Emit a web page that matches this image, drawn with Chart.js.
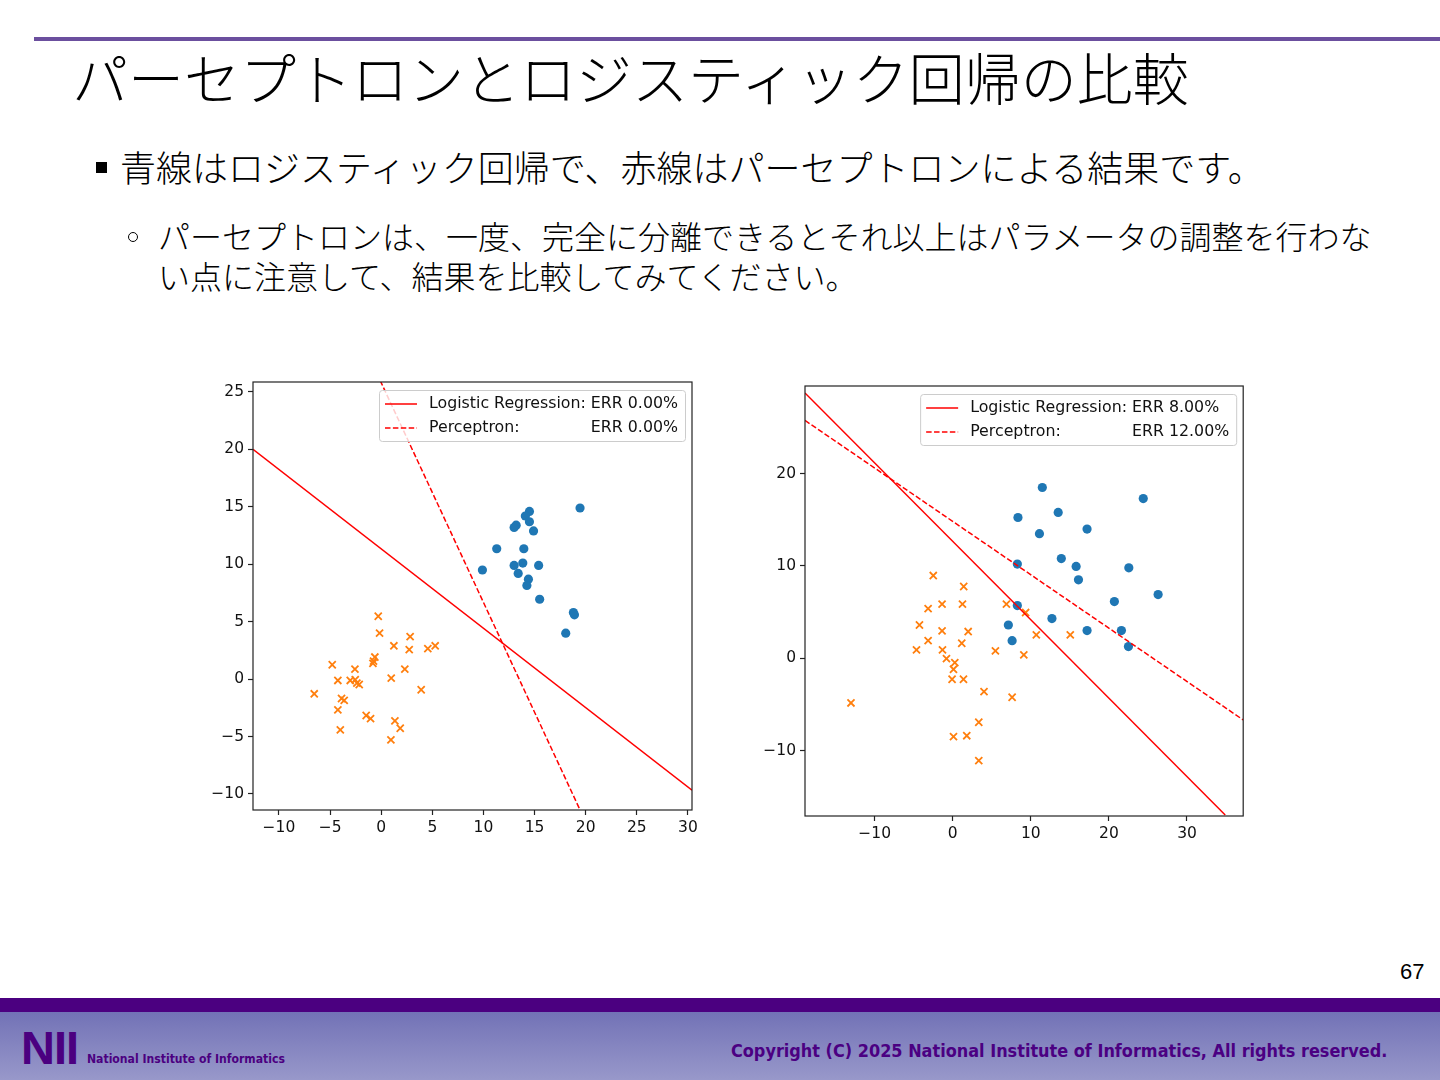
<!DOCTYPE html>
<html lang="ja">
<head>
<meta charset="UTF-8">
<meta name="viewport" content="width=device-width,initial-scale=1">
<title>パーセプトロンとロジスティック回帰の比較</title>
<script src="https://cdn.jsdelivr.net/npm/chart.js"></script>
<style>
  html, body { margin: 0; padding: 0; background: #fff; }
  body { position: relative; width: 1440px; height: 1080px; overflow: hidden;
         font-family: "Noto Sans CJK JP", "Noto Sans", sans-serif; color: #000; }
  .topline { position: absolute; left: 34px; top: 37px; width: 1406px; height: 4px; background: #6b4f9e; }
  h1 { position: absolute; left: 72px; top: 38px; margin: 0; font-size: 56px; line-height: 76px;
       font-weight: 300; white-space: nowrap; }
  .sq { position: absolute; left: 96px; top: 162px; width: 11px; height: 11px; background: #000; }
  .b1 { position: absolute; left: 120px; top: 142px; font-size: 36px; line-height: 48px; font-weight: 300; white-space: nowrap; }
  .ring { position: absolute; left: 128px; top: 232px; width: 8px; height: 8px;
          border: 1.5px solid #000; border-radius: 50%; }
  .b2 { position: absolute; left: 158px; top: 215px; font-size: 32px; line-height: 40px; font-weight: 300; white-space: nowrap; }
  canvas { position: absolute; }
  #plotL { left: 196px; top: 372px; }
  #plotR { left: 752px; top: 376px; }
  .pnum { position: absolute; left: 1400px; top: 959px; font-family: "Liberation Sans", Arial, sans-serif;
          font-size: 22px; line-height: 26px; }
  .band { position: absolute; left: 0; top: 998px; width: 1440px; height: 14px; background: #4b0080; }
  .foot { position: absolute; left: 0; top: 1012px; width: 1440px; height: 68px;
          background: linear-gradient(#7272b6, #9898ca); }
  .nii { position: absolute; left: 21px; top: 1024px; font-family: "Liberation Sans", Arial, sans-serif;
         font-weight: 700; font-size: 47px; line-height: 47px; color: #4b0080; letter-spacing: -1px; }
  .niiname { position: absolute; left: 87px; top: 1051px; font-family: "DejaVu Sans Condensed", "DejaVu Sans", sans-serif;
             font-weight: 700; font-size: 14px; line-height: 16px; color: #4b0080; white-space: nowrap; }
  .copy { position: absolute; left: 731px; top: 1039px; font-family: "DejaVu Sans Condensed", "DejaVu Sans", sans-serif;
          font-weight: 700; font-size: 18px; line-height: 24px; color: #4b0082; white-space: nowrap; }
</style>
</head>
<body>

<div class="topline"></div>
<h1>パーセプトロンとロジスティック回帰の比較</h1>

<div class="sq"></div>
<div class="b1">青線はロジスティック回帰で、赤線はパーセプトロンによる結果です。</div>

<div class="ring"></div>
<div class="b2">パーセプトロンは、一度、完全に分離できるとそれ以上はパラメータの調整を行わな<br>い点に注意して、結果を比較してみてください。</div>

<canvas id="plotL" width="504" height="470"></canvas>
<canvas id="plotR" width="498" height="472"></canvas>

<div class="pnum">67</div>
<div class="band"></div>
<div class="foot"></div>
<div class="nii">NII</div>
<div class="niiname" id="niiname">National Institute of Informatics</div>
<div class="copy" id="copy">Copyright (C) 2025 National Institute of Informatics, All rights reserved.</div>

<script>
  /* 左: 線形分離できるデータ */
  const xTicksL = [-10, -5, 0, 5, 10, 15, 20, 25, 30];
  const yTicksL = [-10, -5, 0, 5, 10, 15, 20, 25];
  const xLimL = [-12.54, 30.4];
  const yLimL = [-11.4, 25.87];
  const blueXL = [19.45, 14.5, 14.1, 14.5, 13.2, 13.0, 14.9, 11.3, 13.95, 9.9, 13.0, 13.85, 15.4, 13.4, 14.4, 14.25, 15.5, 18.8, 18.9, 18.05];
  const blueYL = [14.9, 14.6, 14.2, 13.7, 13.4, 13.2, 12.9, 11.35, 11.35, 9.5, 9.9, 10.1, 9.9, 9.2, 8.7, 8.15, 6.95, 5.8, 5.6, 4.0];
  const orangeXL = [-0.29, -0.16, 2.83, 1.24, 5.28, 4.56, 2.74, -0.62, -0.75, -0.81, -4.79, -2.57, 2.31, 0.98, -4.24,
                    -3.03, -2.54, -2.38, -2.15, 3.91, -6.55, -3.88, -3.62, -4.24, -1.47, -1.04, 1.34, 1.86, -4.0, 0.95];
  const orangeYL = [5.47, 4.0, 3.7, 2.9, 2.9, 2.65, 2.56, 1.92, 1.57, 1.37, 1.25, 0.87, 0.87, 0.09, -0.12,
                    -0.12, -0.06, -0.35, -0.47, -0.93, -1.28, -1.69, -1.86, -2.68, -3.17, -3.44, -3.64, -4.28, -4.42, -5.3];
  const lrXL = [-12.54, 30.4];
  const lrYL = [20.0, -9.67];
  const pcXL = [-0.1, 19.4];
  const pcYL = [26.0, -11.3];
  const errL = ['ERR 0.00%', 'ERR 0.00%'];

  /* 右: 重なりのあるデータ */
  const xTicksR = [-10, 0, 10, 20, 30];
  const yTicksR = [-10, 0, 10, 20];
  const xLimR = [-18.93, 37.2];
  const yLimR = [-17.1, 29.5];
  const blueXR = [11.47, 24.4, 8.35, 13.5, 11.1, 17.2, 13.9, 15.8, 22.55, 8.27, 16.1, 26.3, 20.7, 8.27, 7.12, 12.7, 17.2, 21.6, 7.6, 22.5];
  const blueYR = [18.5, 17.3, 15.25, 15.8, 13.5, 14.0, 10.8, 9.95, 9.8, 10.2, 8.5, 6.9, 6.14, 5.7, 3.6, 4.3, 3.0, 3.0, 1.9, 1.26];
  const orangeXR = [-2.5, 1.4, -1.37, 1.24, 6.87, -3.16, 9.33, -4.27, -1.37, 1.97, -3.16, 1.15, 10.7, 15.05, -4.65,
                    -1.32, 5.46, 9.1, -0.81, 0.26, 0.09, -0.09, 1.37, 4.0, 7.6, -13.04, 3.33, 0.09, 1.79, 3.33];
  const orangeYR = [8.96, 7.77, 5.86, 5.86, 5.86, 5.38, 4.95, 3.6, 2.96, 2.89, 1.9, 1.62, 2.53, 2.53, 0.9,
                    0.9, 0.79, 0.36, -0.04, -0.47, -1.2, -2.28, -2.28, -3.62, -4.23, -4.85, -6.94, -8.5, -8.4, -11.1];
  const lrXR = [-18.93, 34.9];
  const lrYR = [28.74, -17.0];
  const pcXR = [-18.93, 37.2];
  const pcYR = [25.77, -6.69];
  const errR = ['ERR 8.00%', 'ERR 12.00%'];

  const legendNames = ['Logistic Regression:', 'Perceptron:'];

  const TICK_FONT = { family: 'DejaVu Sans', size: 15.5 };
  const fmt = v => (v < 0 ? '\u2212' + Math.abs(v) : String(v));
  const pts = (xs, ys) => xs.map((x, i) => ({ x, y: ys[i] }));

  /* 枠 + matplotlib風の凡例 */
  const frameLegend = {
    id: 'frameLegend',
    afterDatasetsDraw(chart) {
      const { ctx, chartArea: a } = chart;
      ctx.save();
      ctx.strokeStyle = '#222';
      ctx.lineWidth = 1.2;
      ctx.strokeRect(a.left, a.top, a.right - a.left, a.bottom - a.top);

      const items = chart.data.datasets.filter(d => d.err);
      ctx.font = '15.8px "DejaVu Sans"';
      const labelW = Math.max(...items.map(d => ctx.measureText(d.label + ' ').width));
      const errW = Math.max(...items.map(d => ctx.measureText(d.err).width));
      const w = 50 + labelW + errW + 7, h = 51;
      const x0 = a.right - 7 - w, y0 = a.top + 8;
      ctx.beginPath();
      ctx.roundRect(x0 + 0.5, y0 + 0.5, w, h, 3);
      ctx.fillStyle = 'rgba(255,255,255,0.8)';
      ctx.fill();
      ctx.strokeStyle = '#cccccc';
      ctx.lineWidth = 1;
      ctx.stroke();

      items.forEach((d, i) => {
        const y = y0 + 14 + i * 24;
        ctx.beginPath();
        ctx.setLineDash(d.borderDash || []);
        ctx.strokeStyle = d.borderColor;
        ctx.lineWidth = d.borderWidth;
        ctx.moveTo(x0 + 6, y);
        ctx.lineTo(x0 + 38, y);
        ctx.stroke();
        ctx.setLineDash([]);
        ctx.fillStyle = '#111';
        ctx.textBaseline = 'middle';
        ctx.fillText(d.label, x0 + 50, y);
        ctx.fillText(d.err, x0 + 50 + labelW, y);
      });
      ctx.restore();
    }
  };

  function axis(lim, ticks, fit) {
    return {
      type: 'linear', min: lim[0], max: lim[1],
      afterBuildTicks: ax => { ax.ticks = ticks.map(v => ({ value: v })); },
      afterFit: fit,
      grid: { display: true, drawOnChartArea: false, drawTicks: true, tickLength: 5, tickWidth: 1.2, tickColor: '#222' },
      border: { display: false },
      ticks: { font: TICK_FONT, color: '#111', padding: 4, maxRotation: 0, autoSkip: false, callback: fmt }
    };
  }

  function makePlot(id, d) {
    return new Chart(document.getElementById(id), {
      type: 'scatter',
      data: {
        datasets: [
          { label: legendNames[0], err: d.err[0], data: pts(d.lrX, d.lrY), showLine: true,
            borderColor: '#ff0000', borderWidth: 1.5, pointRadius: 0, order: 0 },
          { label: legendNames[1], err: d.err[1], data: pts(d.pcX, d.pcY), showLine: true,
            borderColor: '#ff0000', borderWidth: 1.5, borderDash: [5.5, 2.4], pointRadius: 0, order: 0 },
          { data: pts(d.oX, d.oY), pointStyle: 'crossRot', pointRadius: 5, borderColor: '#ff7f0e',
            borderWidth: 1.8, order: 1 },
          { data: pts(d.bX, d.bY), pointStyle: 'circle', pointRadius: 4.6, backgroundColor: '#1f77b4',
            borderWidth: 0, order: 2 }
        ]
      },
      options: {
        responsive: false,
        animation: false,
        events: [],
        layout: { padding: { top: 10, right: d.padR, left: 0, bottom: 0 } },
        plugins: { legend: { display: false }, tooltip: { enabled: false } },
        scales: {
          x: axis(d.xLim, d.xTicks, ax => { ax.height = 32; ax.paddingLeft = 0; ax.paddingRight = 0; }),
          y: axis(d.yLim, d.yTicks, ax => { ax.width = d.yW; ax.paddingTop = 0; ax.paddingBottom = 0; })
        }
      },
      plugins: [frameLegend]
    });
  }

  makePlot('plotL', {
    xLim: xLimL, yLim: yLimL, xTicks: xTicksL, yTicks: yTicksL,
    bX: blueXL, bY: blueYL, oX: orangeXL, oY: orangeYL,
    lrX: lrXL, lrY: lrYL, pcX: pcXL, pcY: pcYL, err: errL,
    yW: 57, padR: 8
  });
  makePlot('plotR', {
    xLim: xLimR, yLim: yLimR, xTicks: xTicksR, yTicks: yTicksR,
    bX: blueXR, bY: blueYR, oX: orangeXR, oY: orangeYR,
    lrX: lrXR, lrY: lrYR, pcX: pcXR, pcY: pcYR, err: errR,
    yW: 53, padR: 6
  });

  /* フッターの文字幅合わせ */
  function fitText(el, target) {
    const w = el.getBoundingClientRect().width;
    const fs = parseFloat(getComputedStyle(el).fontSize);
    el.style.fontSize = (fs * target / w) + 'px';
  }
  fitText(document.getElementById('copy'), 657);
  fitText(document.getElementById('niiname'), 198);
</script>
</body>
</html>
